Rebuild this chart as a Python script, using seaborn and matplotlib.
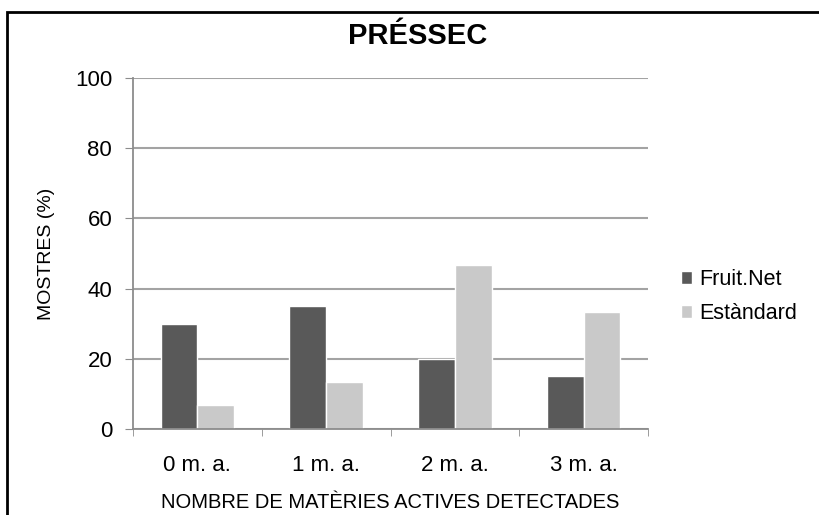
import pandas as pd
import seaborn as sns
import matplotlib.pyplot as plt
from matplotlib.patches import Rectangle

# dades
categories = ['0 m. a.', '1 m. a.', '2 m. a.', '3 m. a.']
fruitnet = [30, 35, 20, 15]
estandard = [6.7, 13.3, 46.7, 33.3]
series_names = ['Fruit.Net', 'Estàndard']
y_ticks = [0, 20, 40, 60, 80, 100]

df = pd.DataFrame({
    'cat': categories * 2,
    'val': fruitnet + estandard,
    'serie': [series_names[0]] * 4 + [series_names[1]] * 4,
})

sns.set_style('white')
plt.rcParams['font.family'] = ['Liberation Sans', 'DejaVu Sans']

fig = plt.figure(figsize=(8.19, 5.15), dpi=100)
ax = fig.add_axes([133 / 819, 1 - 429 / 515, 515 / 819, 351 / 515])

sns.barplot(data=df, x='cat', y='val', hue='serie', order=categories,
            hue_order=series_names, palette=['#595959', '#c9c9c9'],
            width=0.57, saturation=1, ax=ax)

ax.set_ylim(0, 100)
ax.set_xlim(-0.5, 3.5)
ax.set_yticks(y_ticks)
ax.yaxis.grid(True, color='#a3a3a3', linewidth=1.5)
ax.set_axisbelow(True)

# eixos
for s in ['top', 'right']:
    ax.spines[s].set_visible(False)
for s in ['left', 'bottom']:
    ax.spines[s].set_color('#8c8c8c')
    ax.spines[s].set_linewidth(1.3)

ax.tick_params(axis='y', labelsize=16, length=6, color='#8c8c8c', left=True,
               pad=9, labelcolor='black')
ax.tick_params(axis='x', which='major', labelsize=16, length=0, pad=19,
               labelcolor='black')
ax.set_xticks([-0.5, 0.5, 1.5, 2.5, 3.5], minor=True)
ax.tick_params(axis='x', which='minor', length=5, color='#8c8c8c', bottom=True)

fig.suptitle('PRÉSSEC', x=418 / 819, y=1 - 36 / 515, va='center',
             fontsize=21, fontweight='bold', color='black')
ax.set_xlabel('NOMBRE DE MATÈRIES ACTIVES DETECTADES', fontsize=14.5,
              labelpad=12, color='black')
ax.set_ylabel('MOSTRES (%)', fontsize=14, labelpad=14, color='black')

leg = ax.legend(loc='center left', bbox_to_anchor=(1.064, 0.377), frameon=False,
                fontsize=15.5, handlelength=0.5, handleheight=0.5,
                handletextpad=0.35, labelspacing=0.6, borderpad=0,
                borderaxespad=0)
for t in leg.get_texts():
    t.set_color('black')

# marc
fig.patches.append(Rectangle((7 / 819, -0.01), 1.0, 1 - 12 / 515 + 0.01,
                             transform=fig.transFigure, fill=False,
                             edgecolor='black', linewidth=2))

plt.savefig('out.png', dpi=100)
plt.close()
